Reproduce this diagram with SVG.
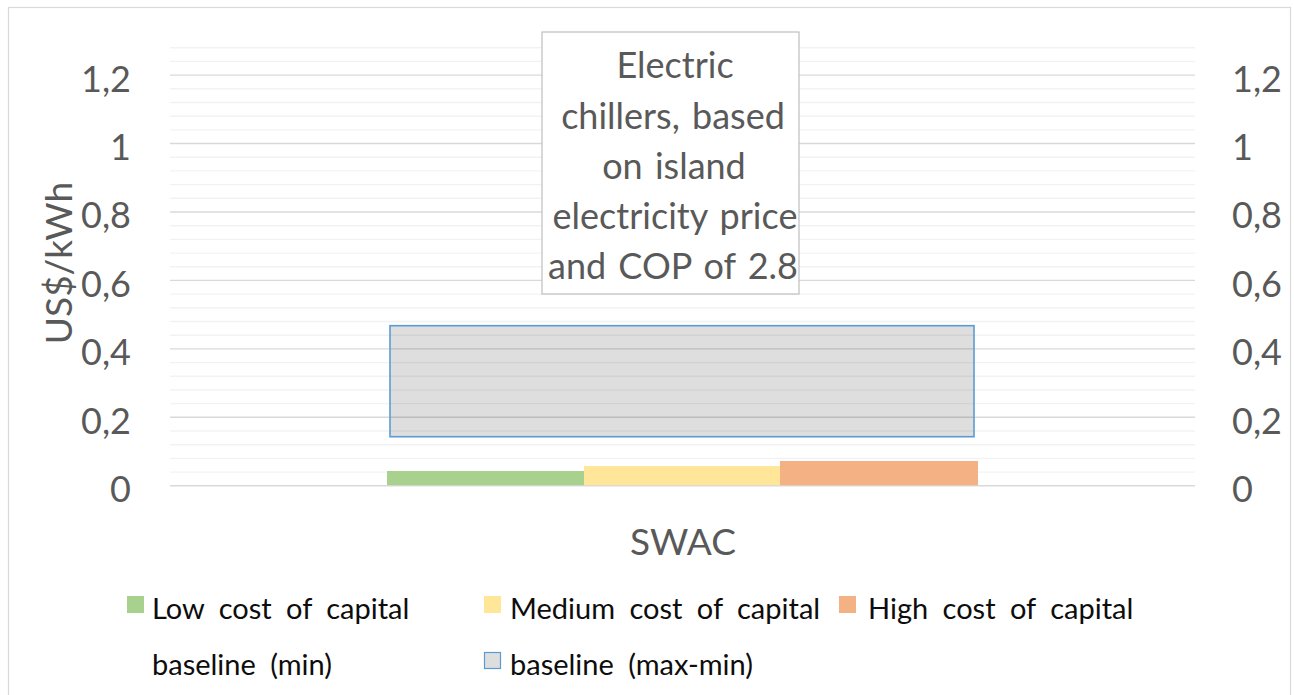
<svg xmlns="http://www.w3.org/2000/svg" width="1294" height="695" viewBox="0 0 1294 695">
<style>
.ax{font-family:Lato,"Open Sans",sans-serif;fill:#595959}
.tick{font-size:36px}
.ttl{font-size:37px}
.ann{font-size:36px;text-anchor:middle;word-spacing:3px}
.leg{font-family:Lato,"Open Sans",sans-serif;font-size:29px;fill:#0d0d0d;word-spacing:7px}
.maj{stroke:#000;stroke-opacity:0.15;stroke-width:1.4}
.min{stroke:#000;stroke-opacity:0.05;stroke-width:1.4}
</style>
<rect x="0" y="0" width="1294" height="695" fill="#fff"/>
<rect id="frame" x="8.5" y="7.5" width="1282" height="700" fill="#fff" stroke="#d9d9d9" stroke-width="1.2"/>
<g id="gridlines">
<line class="min" x1="170" x2="1195" y1="47.7" y2="47.7"/>
<line class="min" x1="170" x2="1195" y1="61.4" y2="61.4"/>
<line class="maj" x1="170" x2="1195" y1="75.1" y2="75.1"/>
<line class="min" x1="170" x2="1195" y1="88.8" y2="88.8"/>
<line class="min" x1="170" x2="1195" y1="102.5" y2="102.5"/>
<line class="min" x1="170" x2="1195" y1="116.2" y2="116.2"/>
<line class="min" x1="170" x2="1195" y1="129.9" y2="129.9"/>
<line class="maj" x1="170" x2="1195" y1="143.5" y2="143.5"/>
<line class="min" x1="170" x2="1195" y1="157.2" y2="157.2"/>
<line class="min" x1="170" x2="1195" y1="170.9" y2="170.9"/>
<line class="min" x1="170" x2="1195" y1="184.6" y2="184.6"/>
<line class="min" x1="170" x2="1195" y1="198.3" y2="198.3"/>
<line class="maj" x1="170" x2="1195" y1="212" y2="212"/>
<line class="min" x1="170" x2="1195" y1="225.7" y2="225.7"/>
<line class="min" x1="170" x2="1195" y1="239.4" y2="239.4"/>
<line class="min" x1="170" x2="1195" y1="253.1" y2="253.1"/>
<line class="min" x1="170" x2="1195" y1="266.8" y2="266.8"/>
<line class="maj" x1="170" x2="1195" y1="280.4" y2="280.4"/>
<line class="min" x1="170" x2="1195" y1="294.1" y2="294.1"/>
<line class="min" x1="170" x2="1195" y1="307.8" y2="307.8"/>
<line class="min" x1="170" x2="1195" y1="321.5" y2="321.5"/>
<line class="min" x1="170" x2="1195" y1="335.2" y2="335.2"/>
<line class="maj" x1="170" x2="1195" y1="348.9" y2="348.9"/>
<line class="min" x1="170" x2="1195" y1="362.6" y2="362.6"/>
<line class="min" x1="170" x2="1195" y1="376.3" y2="376.3"/>
<line class="min" x1="170" x2="1195" y1="390" y2="390"/>
<line class="min" x1="170" x2="1195" y1="403.6" y2="403.6"/>
<line class="maj" x1="170" x2="1195" y1="417.3" y2="417.3"/>
<line class="min" x1="170" x2="1195" y1="431" y2="431"/>
<line class="min" x1="170" x2="1195" y1="444.7" y2="444.7"/>
<line class="min" x1="170" x2="1195" y1="458.4" y2="458.4"/>
<line class="min" x1="170" x2="1195" y1="472.1" y2="472.1"/>
<line class="maj" x1="170" x2="1195" y1="485.8" y2="485.8"/>
</g>
<g id="series">
<rect id="baseline-range" x="390" y="325.7" width="584" height="111" fill="#000" fill-opacity="0.13" stroke="#5b9bd5" stroke-width="1.6"/>
<rect id="bar-low" x="387" y="471" width="197" height="14.2" fill="#a9d18e"/>
<rect id="bar-medium" x="584" y="466" width="196" height="19.2" fill="#ffe699"/>
<rect id="bar-high" x="780" y="461" width="198" height="24.2" fill="#f4b183"/>
</g>
<g id="y-axis-left" class="ax tick" text-anchor="end">
<text x="131" y="91.5">1,2</text>
<text x="131" y="159.5">1</text>
<text x="131" y="228">0,8</text>
<text x="131" y="296.5">0,6</text>
<text x="131" y="365">0,4</text>
<text x="131" y="433.5">0,2</text>
<text x="131" y="501.8">0</text>
</g>
<g id="y-axis-right" class="ax tick">
<text x="1232" y="91.5">1,2</text>
<text x="1232" y="159.5">1</text>
<text x="1232" y="228">0,8</text>
<text x="1232" y="296.5">0,6</text>
<text x="1232" y="365">0,4</text>
<text x="1232" y="433.5">0,2</text>
<text x="1232" y="501.8">0</text>
</g>
<g id="y-title">
<text class="ax ttl" text-anchor="middle" transform="translate(72,263) rotate(-90)">US$/kWh</text>
</g>
<g id="x-title">
<text class="ax ttl" x="683" y="555" text-anchor="middle">SWAC</text>
</g>
<g id="annotation">
<rect x="542" y="32" width="257" height="262" fill="#fff" stroke="#bfbfbf" stroke-width="1.2"/>
<g class="ax ann">
<text x="675" y="78.3">Electric</text>
<text x="673" y="128.5">chillers, based</text>
<text x="674" y="179">on island</text>
<text x="675" y="229">electricity price</text>
<text x="673" y="279">and COP of 2.8</text>
</g>
</g>
<g id="legend">
<rect x="127" y="596" width="17" height="17" fill="#a9d18e"/>
<text class="leg" x="152" y="619">Low cost of capital</text>
<rect x="484" y="596" width="17" height="17" fill="#ffe699"/>
<text class="leg" x="510" y="619">Medium cost of capital</text>
<rect x="839" y="596" width="17" height="17" fill="#f4b183"/>
<text class="leg" x="868" y="619">High cost of capital</text>
<text class="leg" x="152" y="675">baseline (min)</text>
<rect x="484.5" y="652.5" width="16" height="16" fill="#dedede" stroke="#5b9bd5" stroke-width="1.2"/>
<text class="leg" x="510" y="675">baseline (max-min)</text>
</g>
</svg>
